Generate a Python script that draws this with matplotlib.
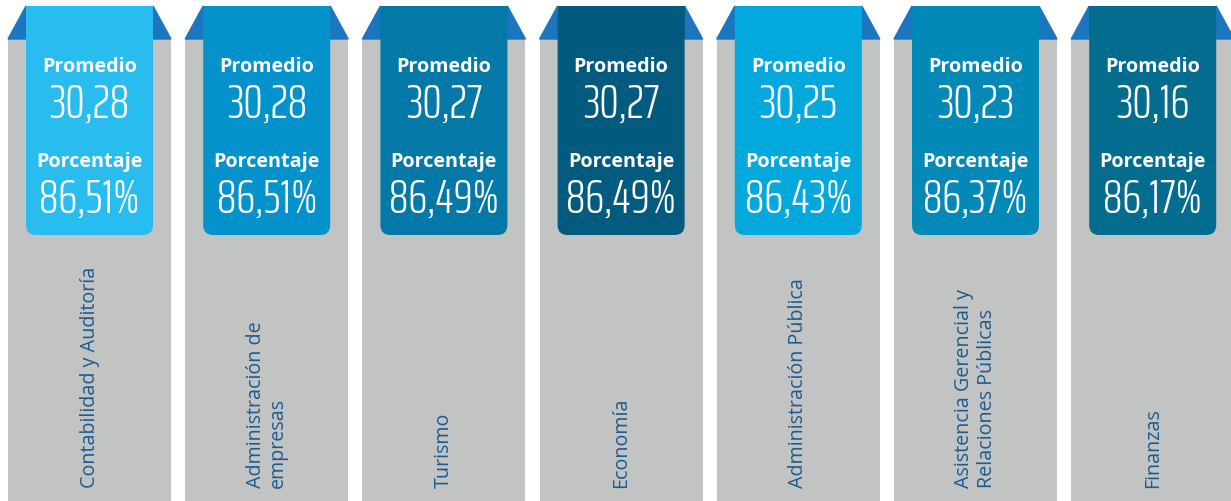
# Promedio y porcentaje por carrera - cintas sobre columnas grises

import matplotlib
matplotlib.use("Agg")
import matplotlib.pyplot as plt
from matplotlib.patches import FancyBboxPatch, Polygon, Rectangle

carreras = ["Contabilidad y Auditoría", "Administración de\nempresas", "Turismo",
            "Economía", "Administración Pública",
            "Asistencia Gerencial y\nRelaciones Públicas", "Finanzas"]
promedio = [30.28, 30.28, 30.27, 30.27, 30.25, 30.23, 30.16]
porcentaje = [86.51, 86.51, 86.49, 86.49, 86.43, 86.37, 86.17]
colores = ["#28bdee", "#0392cb", "#0479a8", "#035a7f", "#03a8dd", "#0389b7", "#036c8f"]


def coma(v, nd=2):
    return f"{v:.{nd}f}".replace(".", ",")


W, H = 1231, 502
fig = plt.figure(figsize=(W / 100, H / 100), dpi=100)
ax = fig.add_axes([0, 0, 1, 1])
ax.set_xlim(0, W)
ax.set_ylim(H, 0)
ax.axis("off")

paso = 177.2
ancho = 163
x0 = 8
centros = [x0 + ancho / 2 + paso * i for i in range(len(carreras))]

f_titulo = ["Open Sans", "DejaVu Sans"]
f_numero = ["Saira ExtraCondensed", "Roboto Condensed", "DejaVu Sans"]
f_etiqueta = ["Open Sans", "DejaVu Sans"]

# columnas grises
ax.bar(centros, H - 40, width=ancho, bottom=40, color="#c2c3c3", zorder=1)

margen = 18
for i, c in enumerate(centros):
    izq = c - ancho / 2
    der = c + ancho / 2
    # pliegues azules
    ax.add_patch(Polygon([(izq, 40), (izq + margen, 7), (izq + margen, 40)],
                         closed=True, color="#1b76bf", zorder=2))
    ax.add_patch(Polygon([(der - margen, 7), (der, 40), (der - margen, 40)],
                         closed=True, color="#1b76bf", zorder=2))
    # cinta
    cx0, cx1 = izq + margen, der - margen
    ax.add_patch(FancyBboxPatch((cx0 + 10, 17), (cx1 - cx0) - 20, 236 - 27,
                                boxstyle="round,pad=10", color=colores[i],
                                lw=0, zorder=3))
    ax.add_patch(Rectangle((cx0, 7), cx1 - cx0, 30, color=colores[i], lw=0, zorder=3))

    ax.text(c, 72, "Promedio", color="white", fontsize=14.2, fontweight="bold",
            family=f_titulo, ha="center", va="baseline", zorder=4)
    ax.text(c, 118, coma(promedio[i]), color="white", fontsize=35, fontweight=300,
            family=f_numero, ha="center", va="baseline", zorder=4)
    ax.text(c, 167, "Porcentaje", color="white", fontsize=14.2, fontweight="bold",
            family=f_titulo, ha="center", va="baseline", zorder=4)
    ax.text(c, 213, coma(porcentaje[i]) + "%", color="white", fontsize=35, fontweight=300,
            family=f_numero, ha="center", va="baseline", zorder=4)

    ax.text(c, 488, carreras[i], color="#1d5b8e", fontsize=14.2, rotation=90,
            family=f_etiqueta, ha="center", va="bottom",
            multialignment="left", linespacing=1.15, zorder=4)

fig.savefig("out.png", dpi=100)
